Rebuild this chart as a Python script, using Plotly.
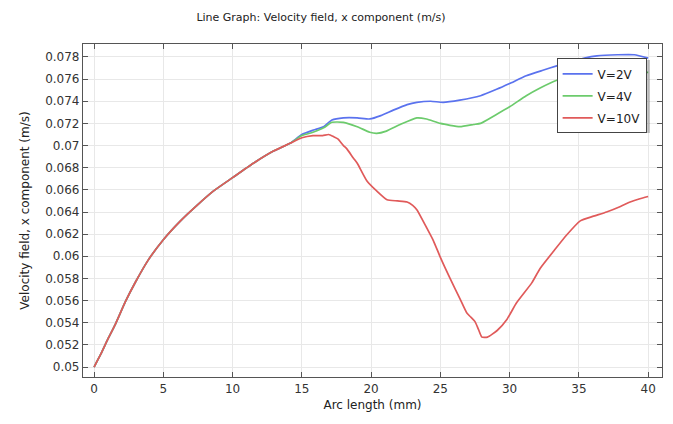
import plotly.graph_objects as go

# Shared rising portion (all three curves coincide)
common_x = [0, 0.5, 0.95, 1.55, 2.26, 3.0, 3.93, 5.0, 6.24, 7.43, 8.63, 10.0, 11.5, 12.95, 14.15]
common_y = [0.05, 0.0512, 0.0524, 0.0539, 0.0559, 0.0577, 0.0597, 0.0615, 0.0632, 0.0646,
            0.0659, 0.0671, 0.0684, 0.0695, 0.0702]

v2_x = [15.0, 15.84, 16.57, 17.17, 18.0, 19.0, 19.9, 20.7, 21.6, 22.6, 23.3, 24.3, 25.2, 26.4,
        27.9, 29.1, 30.0, 31.2, 32.4, 33.4, 34.5, 35.4, 36.3, 37.8, 39.0, 40.0]
v2_y = [0.0710, 0.0714, 0.0717, 0.0723, 0.0725, 0.0725, 0.0724, 0.0727, 0.0732, 0.0737, 0.0739,
        0.0740, 0.0739, 0.0741, 0.0745, 0.0751, 0.0756, 0.0763, 0.0768, 0.0772, 0.0776, 0.0779,
        0.0781, 0.0782, 0.0782, 0.0779]

v4_x = [15.0, 15.8, 16.57, 17.17, 18.0, 19.0, 19.9, 20.4, 21.1, 22.1, 23.3, 24.0, 25.0, 26.4,
        27.4, 27.9, 28.9, 30.0, 31.2, 32.2, 33.4, 34.5, 35.5, 37.0, 38.5, 40.0]
v4_y = [0.0709, 0.0712, 0.0716, 0.0721, 0.0721, 0.0717, 0.0712, 0.0711, 0.0713, 0.0719, 0.0725,
        0.0724, 0.0720, 0.0717, 0.0719, 0.0720, 0.0727, 0.0735, 0.0745, 0.0752, 0.0759, 0.0763,
        0.0765, 0.0766, 0.0766, 0.0766]

v10_x = [15.0, 15.8, 16.5, 16.93, 17.3, 17.6, 18.0, 18.25, 18.7, 19.0, 19.7, 20.4, 21.15, 21.9,
         22.6, 23.0, 23.3, 24.0, 24.5, 25.0, 25.7, 26.4, 26.9, 27.2, 27.5, 27.75, 28.0, 28.4,
         29.1, 29.8, 30.5, 31.6, 32.2, 33.2, 34.1, 35.1, 36.0, 37.0, 38.0, 38.7, 39.4, 40.0]
v10_y = [0.0707, 0.0709, 0.0709, 0.0710, 0.0708, 0.0706, 0.0700, 0.0697, 0.0689, 0.0684, 0.0668,
         0.0659, 0.0651, 0.0650, 0.0649, 0.0646, 0.0642, 0.0626, 0.0614, 0.0599, 0.0580, 0.0562,
         0.0549, 0.0545, 0.0541, 0.0534, 0.0527, 0.0527, 0.0533, 0.0543, 0.0558, 0.0576, 0.0589,
         0.0605, 0.0619, 0.0632, 0.0636, 0.0640, 0.0645, 0.0649, 0.0652, 0.0654]

series_names = ["V=2V", "V=4V", "V=10V"]
series_colors = ["#5a72ee", "#6ccb6c", "#e05a5a"]

fig = go.Figure()
for name, color, xs, ys in zip(series_names, series_colors,
                               [v2_x, v4_x, v10_x], [v2_y, v4_y, v10_y]):
    fig.add_trace(go.Scatter(x=common_x + xs, y=common_y + ys, mode="lines", name=name,
                             legendgroup=name,
                             line=dict(color=color, width=1.7, shape="spline", smoothing=0.5)))

font_family = "DejaVu Sans"
axis_common = dict(showline=True, linecolor="#555555", linewidth=1.2, mirror="ticks",
                   ticks="inside", ticklen=5, tickcolor="#555555", tickwidth=1,
                   showgrid=True, gridcolor="#e8e8e8", gridwidth=1, zeroline=False,
                   tickfont=dict(family=font_family, size=12, color="#333333"))

# legend drop shadow (paper coordinates of the plot area)
plot_l, plot_t, plot_w, plot_h = 83, 44, 579, 333
def px_to_paper(px, py):
    return (px - plot_l) / plot_w, 1 - (py - plot_t) / plot_h

sx0, sy0 = px_to_paper(559, 60)
sx1, sy1 = px_to_paper(650, 133)

fig.update_layout(
    width=673, height=424,
    margin=dict(l=83, r=11, t=44, b=47),
    paper_bgcolor="white", plot_bgcolor="white",
    title=dict(text="Line Graph: Velocity field, x component (m/s)", x=321 / 673, xref="container",
               xanchor="center", y=1 - 17 / 424, yref="container", yanchor="middle",
               font=dict(family=font_family, size=11, color="#222222")),
    xaxis=dict(range=[-0.8, 41.0], tickmode="linear", tick0=0, dtick=5,
               title=dict(text="Arc length (mm)", standoff=6,
                          font=dict(family=font_family, size=12, color="#222222")),
               **axis_common),
    yaxis=dict(range=[0.0491, 0.07917], tickmode="linear", tick0=0.05, dtick=0.002,
               title=dict(text="Velocity field, x component (m/s)", standoff=12,
                          font=dict(family=font_family, size=12, color="#222222")),
               **axis_common),
    legend=dict(x=0.818, y=0.957, xanchor="left", yanchor="top", bgcolor="white",
                bordercolor="#444444", borderwidth=1, tracegroupgap=3,
                font=dict(family=font_family, size=12, color="#222222")),
    shapes=[dict(type="rect", xref="paper", yref="paper", x0=sx0, x1=sx1, y0=sy1, y1=sy0,
                 fillcolor="rgba(0,0,0,0.22)", line=dict(width=0), layer="above")],
    showlegend=True,
)

fig.write_html("out.html")
